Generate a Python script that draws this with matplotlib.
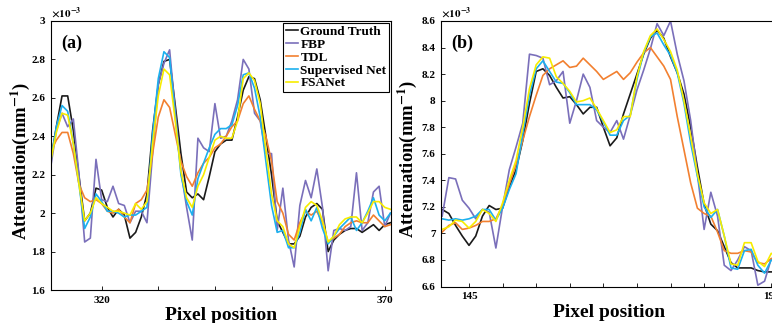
import numpy as np
import matplotlib
matplotlib.use("Agg")
import matplotlib.pyplot as plt
from matplotlib.ticker import FuncFormatter

plt.rcParams['font.family'] = ['Liberation Serif', 'DejaVu Serif']
plt.rcParams['font.weight'] = 'bold'
plt.rcParams['mathtext.fontset'] = 'stix'

# panel (a): pixel 311..371, values in units of 1e-3 mm^-1
x_a = np.arange(311, 372)
gt_a = [2.27, 2.45, 2.61, 2.61, 2.43, 2.19, 1.96, 2.00, 2.13, 2.12,
        2.03, 1.98, 2.02, 1.99, 1.87, 1.90, 1.98, 2.10, 2.43, 2.67,
        2.79, 2.80, 2.56, 2.31, 2.11, 2.08, 2.10, 2.07, 2.19, 2.32,
        2.36, 2.38, 2.38, 2.50, 2.64, 2.71, 2.70, 2.59, 2.40, 2.20,
        1.96, 1.90, 1.84, 1.84, 1.88, 1.98, 2.03, 2.05, 2.02, 1.80,
        1.86, 1.89, 1.91, 1.92, 1.92, 1.90, 1.92, 1.94, 1.91, 1.94,
        1.95]
fbp_a = [2.24, 2.43, 2.52, 2.45, 2.49, 2.20, 1.85, 1.87, 2.28, 2.07,
         2.06, 2.14, 2.05, 2.04, 1.95, 2.01, 2.01, 1.95, 2.31, 2.67,
         2.78, 2.85, 2.53, 2.22, 2.03, 1.86, 2.39, 2.34, 2.32, 2.57,
         2.39, 2.40, 2.48, 2.59, 2.80, 2.75, 2.52, 2.48, 2.31, 2.31,
         1.91, 2.13, 1.86, 1.72, 2.04, 2.17, 2.08, 2.23, 2.03, 1.70,
         1.91, 1.92, 1.91, 1.93, 2.21, 1.91, 1.95, 2.11, 2.14, 1.93,
         2.00]
tdl_a = [2.32, 2.38, 2.42, 2.42, 2.31, 2.15, 2.08, 2.06, 2.07, 2.05,
         2.01, 2.00, 2.02, 1.98, 1.95, 2.05, 2.07, 2.12, 2.31, 2.50,
         2.59, 2.55, 2.41, 2.27, 2.19, 2.14, 2.21, 2.26, 2.29, 2.34,
         2.36, 2.40, 2.45, 2.48, 2.57, 2.61, 2.54, 2.48, 2.40, 2.27,
         2.06, 2.00, 1.89, 1.86, 1.95, 2.01, 1.99, 2.01, 1.95, 1.85,
         1.87, 1.89, 1.93, 1.95, 1.96, 1.95, 1.95, 1.99, 1.96, 1.93,
         1.94]
sup_a = [2.27, 2.45, 2.56, 2.53, 2.36, 2.15, 1.92, 1.98, 2.10, 2.06,
         2.01, 2.01, 2.00, 1.98, 1.99, 1.99, 2.01, 2.03, 2.41, 2.70,
         2.84, 2.81, 2.50, 2.20, 2.06, 1.99, 2.18, 2.26, 2.34, 2.41,
         2.44, 2.44, 2.46, 2.56, 2.72, 2.73, 2.65, 2.50, 2.27, 2.04,
         1.90, 1.91, 1.82, 1.82, 1.90, 2.02, 1.96, 2.03, 1.92, 1.84,
         1.88, 1.92, 1.95, 1.98, 1.91, 1.95, 2.01, 2.08, 1.99, 1.96,
         2.00]
fsa_a = [2.27, 2.42, 2.52, 2.51, 2.36, 2.15, 1.96, 2.00, 2.08, 2.05,
         2.03, 2.01, 2.01, 2.00, 1.99, 2.05, 2.02, 2.06, 2.36, 2.61,
         2.75, 2.72, 2.48, 2.22, 2.08, 2.03, 2.14, 2.20, 2.29, 2.38,
         2.40, 2.39, 2.39, 2.48, 2.70, 2.73, 2.69, 2.57, 2.33, 2.10,
         1.96, 1.93, 1.84, 1.82, 1.93, 2.03, 2.06, 2.04, 1.96, 1.85,
         1.88, 1.94, 1.97, 1.98, 1.98, 1.95, 2.00, 2.06, 2.06, 2.03,
         2.02]

# panel (b): pixel 141..191
x_b = np.arange(141, 192)
gt_b = [7.18, 7.15, 7.06, 6.98, 6.91, 6.98, 7.13, 7.21, 7.18, 7.19,
        7.35, 7.48, 7.70, 7.98, 8.22, 8.24, 8.19, 8.10, 8.02, 8.03,
        7.97, 7.90, 7.95, 7.95, 7.80, 7.66, 7.72, 7.90, 8.05, 8.20,
        8.35, 8.47, 8.53, 8.47, 8.33, 8.21, 8.05, 7.80, 7.50, 7.22,
        7.07, 7.02, 6.90, 6.78, 6.74, 6.74, 6.74, 6.72, 6.71, 6.71,
        6.71]
fbp_b = [7.13, 7.42, 7.41, 7.25, 7.19, 7.11, 7.18, 7.16, 6.89, 7.20,
         7.48, 7.65, 7.83, 8.35, 8.34, 8.32, 8.12, 8.15, 8.22, 7.83,
         8.00, 8.20, 8.10, 7.85, 7.80, 7.76, 7.85, 7.71, 7.89, 8.08,
         8.23, 8.39, 8.58, 8.49, 8.60, 8.35, 8.15, 7.85, 7.45, 7.03,
         7.31, 7.13, 6.76, 6.72, 6.80, 6.90, 6.87, 6.61, 6.64, 6.81,
         6.80]
tdl_b = [7.01, 7.06, 7.08, 7.03, 7.04, 7.06, 7.09, 7.09, 7.11, 7.21,
         7.37, 7.52, 7.70, 7.88, 8.04, 8.19, 8.24, 8.27, 8.30, 8.25,
         8.26, 8.32, 8.27, 8.22, 8.16, 8.19, 8.22, 8.16, 8.21, 8.29,
         8.36, 8.40, 8.33, 8.26, 8.16, 7.88, 7.63, 7.38, 7.19, 7.15,
         7.13, 7.01, 6.87, 6.85, 6.85, 6.87, 6.86, 6.78, 6.77, 6.81,
         6.82]
sup_b = [7.11, 7.10, 7.11, 7.10, 7.11, 7.13, 7.18, 7.18, 7.10, 7.19,
         7.33, 7.45, 7.75, 8.04, 8.24, 8.30, 8.22, 8.14, 8.13, 8.06,
         7.97, 7.97, 7.97, 7.93, 7.84, 7.74, 7.74, 7.85, 7.89, 8.16,
         8.36, 8.48, 8.51, 8.42, 8.34, 8.21, 7.98, 7.68, 7.43, 7.20,
         7.12, 7.18, 6.98, 6.74, 6.73, 6.87, 6.88, 6.76, 6.70, 6.80,
         6.78]
fsa_b = [7.03, 7.05, 7.10, 7.09, 7.04, 7.09, 7.18, 7.15, 7.09, 7.23,
         7.40, 7.55, 7.80, 8.09, 8.27, 8.33, 8.32, 8.18, 8.13, 8.07,
         7.99, 8.00, 8.02, 7.94, 7.85, 7.76, 7.78, 7.88, 7.88, 8.18,
         8.37, 8.49, 8.54, 8.46, 8.37, 8.23, 8.00, 7.73, 7.45, 7.23,
         7.15, 7.18, 6.98, 6.77, 6.76, 6.93, 6.93, 6.79, 6.75, 6.85,
         6.82]

names = ['Ground Truth', 'FBP', 'TDL', 'Supervised Net', 'FSANet']
colors = ['#1a1a1a', '#7a6fba', '#f28030', '#1cb0ee', '#f7ec00']

fig = plt.figure(figsize=(7.72, 3.23), dpi=100)
ax_a = fig.add_axes([50.7 / 772, 33 / 323, 340.3 / 772, 269 / 323])
ax_b = fig.add_axes([441 / 772, 36.5 / 323, 337 / 772, 265.5 / 323])


def draw_panel(ax, x, series, xlim, ylim, xticks, xlabels, yticks, tag, ylab_x):
    for y, c, n in zip(series, colors, names):
        ax.plot(x, y, color=c, lw=1.2, label=n)
    ax.set_xlim(*xlim)
    ax.set_ylim(*ylim)
    ax.set_xticks(xticks)
    ax.set_xticklabels(xlabels)
    ax.set_yticks(yticks)
    ax.yaxis.set_major_formatter(FuncFormatter(lambda v, p: '%g' % round(v, 2)))
    ax.tick_params(direction='in', length=3, width=0.6, labelsize=8, pad=4)
    for s in ax.spines.values():
        s.set_linewidth(0.8)
    ax.set_xlabel('Pixel position', fontsize=14, fontweight='bold', labelpad=2)
    ax.set_ylabel(r'Attenuation(mm$^{\mathbf{-1}}$)', fontsize=13.5,
                  fontweight='bold')
    ax.yaxis.set_label_coords(ylab_x, 0.48)
    ax.text(0.03, 0.95, tag, transform=ax.transAxes, fontsize=13,
            fontweight='bold', va='top', ha='left')
    ax.text(0.0, 1.005, r'$\times\mathbf{10^{-3}}$', transform=ax.transAxes,
            fontsize=8, va='bottom', ha='left')


draw_panel(ax_a, x_a, [gt_a, fbp_a, tdl_a, sup_a, fsa_a], (311.0, 371.1), (1.6, 3.0),
           np.arange(320, 371, 10), ['320', '', '', '', '', '370'],
           np.arange(1.6, 3.01, 0.2), '(a)', -0.055)
draw_panel(ax_b, x_b, [gt_b, fbp_b, tdl_b, sup_b, fsa_b], (140.83, 191.0), (6.6, 8.6),
           np.arange(145, 191, 5), ['145'] + [''] * 8 + ['190'],
           np.arange(6.6, 8.61, 0.2), '(b)', -0.065)

leg = ax_a.legend(loc='upper right', bbox_to_anchor=(1.0, 1.0), fontsize=9.5,
                  handlelength=0.9, handletextpad=0.2, labelspacing=0.05,
                  borderpad=0.2, borderaxespad=0.15, fancybox=False, framealpha=1)
leg.get_frame().set_edgecolor('black')
leg.get_frame().set_linewidth(0.8)

fig.savefig('out.png', dpi=100)
